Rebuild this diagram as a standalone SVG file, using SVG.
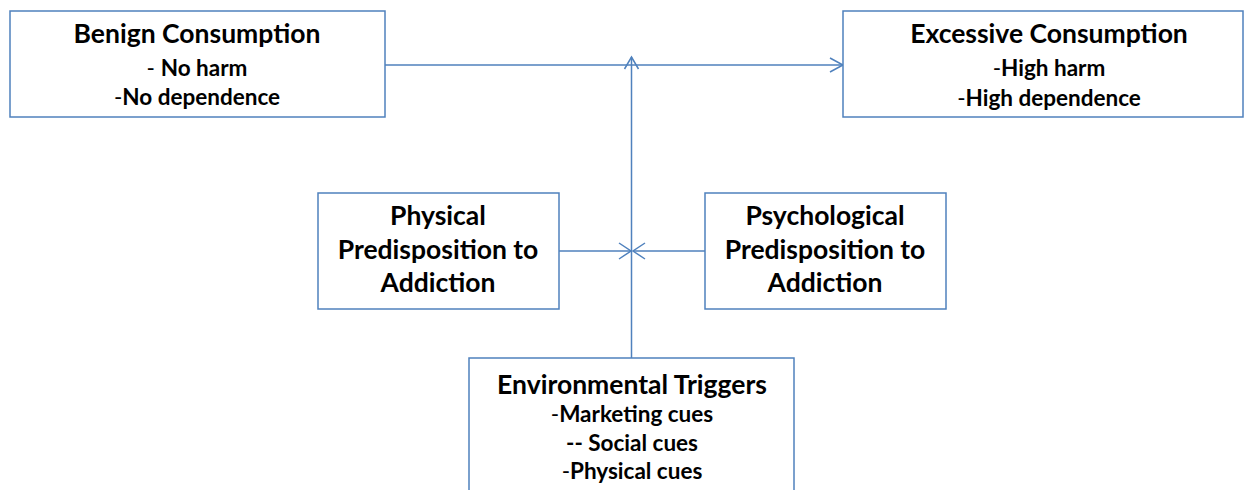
<svg xmlns="http://www.w3.org/2000/svg" width="1250" height="490" viewBox="0 0 1250 490">
<style>
.box{fill:#fff;stroke:#4F81BD;stroke-width:1.5}
.t{font-family:Lato,"Liberation Sans",sans-serif;font-weight:bold;fill:#000;text-anchor:middle}
.h{font-size:26.5px}
.s{font-size:22.5px}
.m{font-size:26.5px}
.n{font-weight:normal}
.c{fill:none;stroke:#4F81BD;stroke-width:1.5}
</style>
<rect width="1250" height="490" fill="#fff"/>
<g id="connectors">
<line class="c" x1="385" y1="65" x2="843" y2="65"/>
<polyline class="c" points="830,58 843,65 830,72"/>
<line class="c" x1="631.5" y1="358" x2="631.5" y2="57"/>
<polyline class="c" points="624.5,69 631.5,57 638.5,69"/>
<line class="c" x1="559" y1="251" x2="631" y2="251"/>
<polyline class="c" points="619,243 631,251 619,259"/>
<line class="c" x1="705" y1="251" x2="633" y2="251"/>
<polyline class="c" points="645,243 633,251 645,259"/>
</g>
<g id="benign">
<rect class="box" x="10" y="11" width="375" height="106"/>
<text class="t h" x="197" y="43">Benign Consumption</text>
<text class="t s" x="197" y="76"><tspan class="n">- </tspan>No harm</text>
<text class="t s" x="197" y="105"><tspan class="n">-</tspan>No dependence</text>
</g>
<g id="excessive">
<rect class="box" x="843" y="11" width="400" height="106"/>
<text class="t h" x="1049" y="43">Excessive Consumption</text>
<text class="t s" x="1049" y="76"><tspan class="n">-</tspan>High harm</text>
<text class="t s" x="1049" y="106"><tspan class="n">-</tspan>High dependence</text>
</g>
<g id="physical">
<rect class="box" x="318" y="193" width="241" height="116"/>
<text class="t m" x="438" y="225">Physical</text>
<text class="t m" x="438" y="259">Predisposition to</text>
<text class="t m" x="438" y="292">Addiction</text>
</g>
<g id="psychological">
<rect class="box" x="705" y="193" width="241" height="116"/>
<text class="t m" x="825" y="225">Psychological</text>
<text class="t m" x="825" y="259">Predisposition to</text>
<text class="t m" x="825" y="292">Addiction</text>
</g>
<g id="environmental">
<rect class="box" x="469" y="358" width="325" height="140"/>
<text class="t h" x="632" y="394">Environmental Triggers</text>
<text class="t s" x="632" y="422"><tspan class="n">-</tspan>Marketing cues</text>
<text class="t s" x="632" y="451">-- Social cues</text>
<text class="t s" x="632" y="479"><tspan class="n">-</tspan>Physical cues</text>
</g>
</svg>
